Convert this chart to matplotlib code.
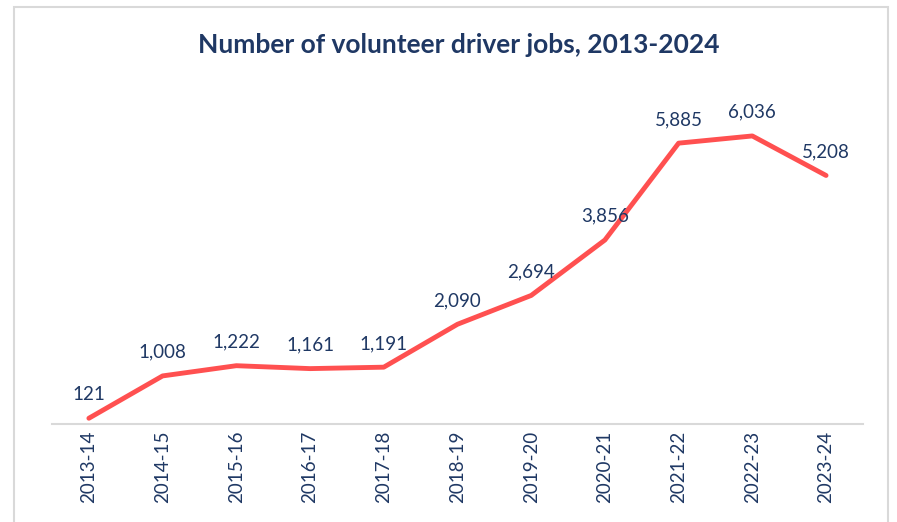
import matplotlib.pyplot as plt
from matplotlib.patches import Rectangle

years = ["2013-14", "2014-15", "2015-16", "2016-17", "2017-18", "2018-19",
         "2019-20", "2020-21", "2021-22", "2022-23", "2023-24"]
jobs = [121, 1008, 1222, 1161, 1191, 2090, 2694, 3856, 5885, 6036, 5208]

navy = "#1F3864"
plt.rcParams['font.family'] = ['Lato', 'DejaVu Sans']

fig = plt.figure(figsize=(8.97, 5.22), dpi=100)
# chart frame
fig.patches.append(Rectangle((14/897, -0.05), (888-14)/897, (522-7)/522 + 0.05,
                             transform=fig.transFigure, fill=False,
                             edgecolor="#D9D9D9", linewidth=1.5))

ax = fig.add_axes([0.058, 0.1877, 0.904, 0.64])
x = list(range(len(years)))
ax.plot(x, jobs, color="#FF5050", linewidth=3.5, solid_capstyle='round',
        solid_joinstyle='round')
for xi, v in zip(x, jobs):
    ax.annotate(f"{v:,}", (xi, v), xytext=(0, 11), textcoords='offset points',
                ha='center', va='bottom', color=navy, fontsize=13.5)

ax.set_xlim(-0.5, len(years) - 0.5)
ax.set_ylim(0, 7000)
ax.set_xticks(x)
ax.set_xticklabels(years, rotation=90, color=navy, fontsize=13.5)
ax.tick_params(axis='x', length=0, pad=5)
ax.set_yticks([])
for s in ['top', 'right', 'left']:
    ax.spines[s].set_visible(False)
ax.spines['bottom'].set_color("#D9D9D9")
ax.spines['bottom'].set_linewidth(1.5)

fig.text(0.511, 0.913, "Number of volunteer driver jobs, 2013-2024", ha='center',
         va='center', color=navy, fontsize=19, fontweight='bold')

fig.savefig("out.png", dpi=100)
